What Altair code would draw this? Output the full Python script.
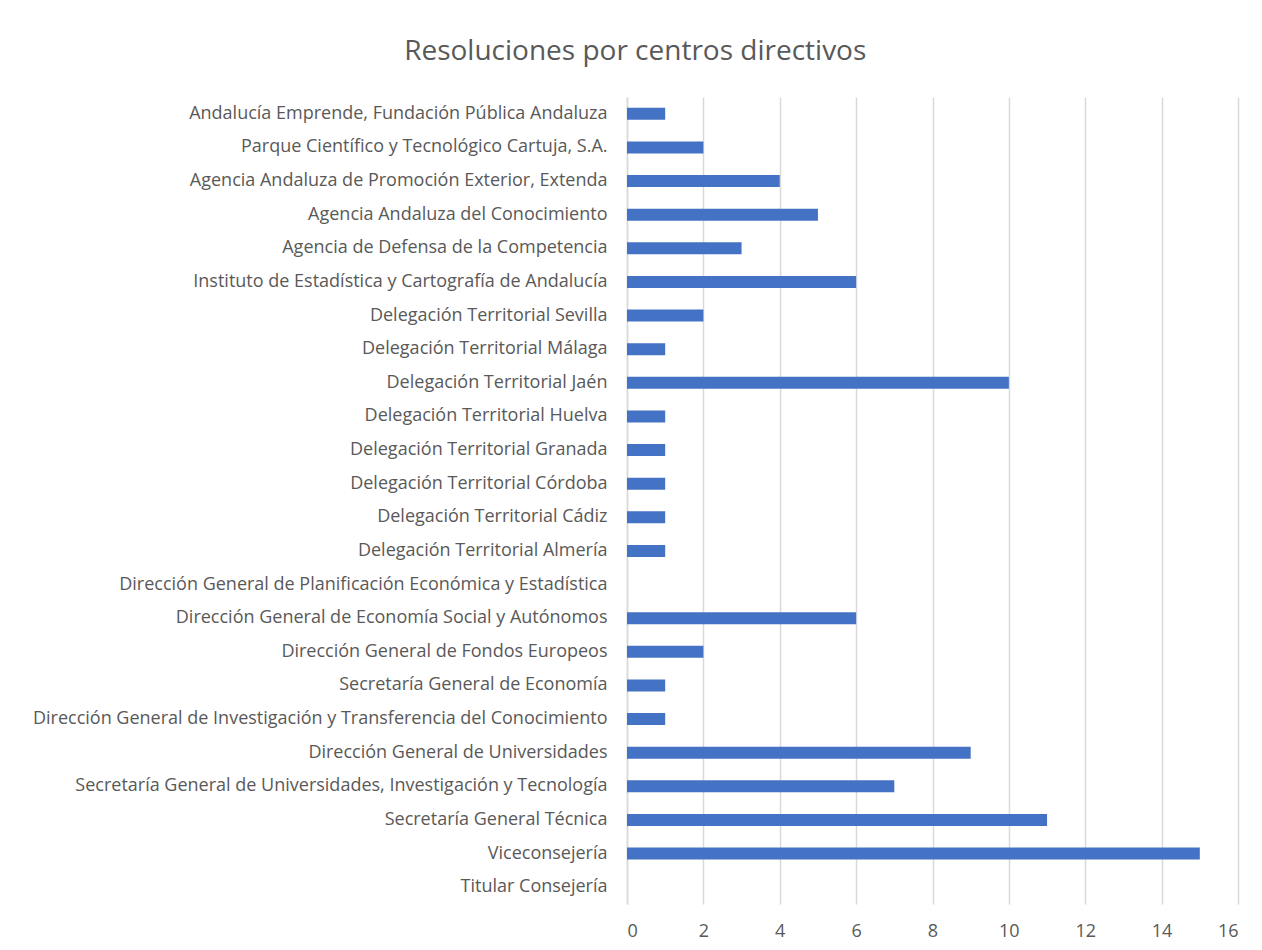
import altair as alt
import pandas as pd

categories = [
    "Andalucía Emprende, Fundación Pública Andaluza",
    "Parque Científico y Tecnológico Cartuja, S.A.",
    "Agencia Andaluza de Promoción Exterior, Extenda",
    "Agencia Andaluza del Conocimiento",
    "Agencia de Defensa de la Competencia",
    "Instituto de Estadística y Cartografía de Andalucía",
    "Delegación Territorial Sevilla",
    "Delegación Territorial Málaga",
    "Delegación Territorial Jaén",
    "Delegación Territorial Huelva",
    "Delegación Territorial Granada",
    "Delegación Territorial Córdoba",
    "Delegación Territorial Cádiz",
    "Delegación Territorial Almería",
    "Dirección General de Planificación Económica y Estadística",
    "Dirección General de Economía Social y Autónomos",
    "Dirección General de Fondos Europeos",
    "Secretaría General de Economía",
    "Dirección General de Investigación y Transferencia del Conocimiento",
    "Dirección General de Universidades",
    "Secretaría General de Universidades, Investigación y Tecnología",
    "Secretaría General Técnica",
    "Viceconsejería",
    "Titular Consejería",
]
values = [1, 2, 4, 5, 3, 6, 2, 1, 10, 1, 1, 1, 1, 1, 0, 6, 2, 1, 1, 9, 7, 11, 15, 0]
x_ticks = [0, 2, 4, 6, 8, 10, 12, 14, 16]

df = pd.DataFrame({"centro": categories, "resoluciones": values})

FONT = "Open Sans"
GREY = "#595959"

chart = (
    alt.Chart(df)
    .mark_bar(color="#4472C4", size=12)
    .encode(
        y=alt.Y(
            "centro:N",
            sort=categories,
            title=None,
            scale=alt.Scale(paddingInner=0, paddingOuter=0),
            axis=alt.Axis(
                ticks=False,
                domain=True,
                domainColor="#d9d9d9",
                domainWidth=1.5,
                labelFont=FONT,
                labelFontSize=18,
                labelColor=GREY,
                labelPadding=20,
                labelLimit=800,
            ),
        ),
        x=alt.X(
            "resoluciones:Q",
            title=None,
            scale=alt.Scale(domain=[0, 16], nice=False),
            axis=alt.Axis(
                values=x_ticks,
                ticks=False,
                domain=False,
                grid=True,
                gridColor="#d9d9d9",
                gridWidth=1.5,
                labelFont=FONT,
                labelFontSize=18,
                labelColor=GREY,
                labelPadding=18,
            ),
        ),
    )
    .properties(
        width=611,
        height=807,
        title=alt.TitleParams(
            "Resoluciones por centros directivos",
            font=FONT,
            fontSize=28,
            fontWeight="normal",
            color=GREY,
            anchor="middle",
            frame="bounds",
            offset=31,
        ),
        padding={"left": 24, "top": 30, "right": 6, "bottom": 4},
    )
    .configure_view(stroke=None)
)

chart.save("out.html", embed_options={"renderer": "svg", "actions": False})
